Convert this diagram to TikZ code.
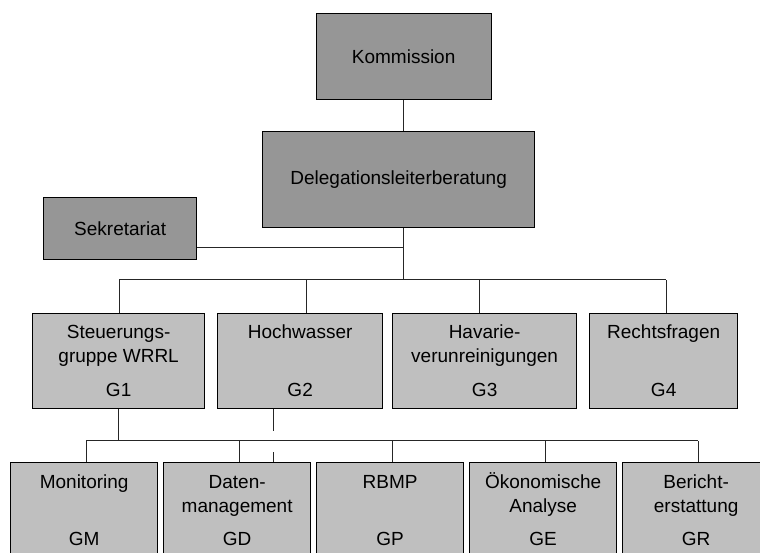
\documentclass[tikz,border=0pt]{standalone}
\usepackage{fontspec}
\setmainfont{Liberation Sans}
\usepackage{tikz}
\usetikzlibrary{positioning}
\definecolor{boxdark}{gray}{0.59}
\definecolor{boxlight}{gray}{0.75}
\tikzset{
  orgbox/.style={draw=black,line width=1.3pt,inner sep=0pt,anchor=north west,
    font=\fontsize{19}{24}\selectfont},
  boxtext/.style={inner sep=0pt,align=center,anchor=base,font=\fontsize{19}{24}\selectfont},
  link/.style={line width=1pt,black!85}
}

\begin{document}
\begin{tikzpicture}[x=1pt,y=-1pt]
    \useasboundingbox (0,0) rectangle (760,553);
    \coordinate (sekj) at (403,248);
    \coordinate (bus) at (403,280);
    \coordinate (busl) at (119,280);
    \coordinate (busr) at (666,280);
    \coordinate (sub) at (119,440.5);
    \coordinate (subl) at (86,440.5);
    \coordinate (subr) at (698,440.5);
    \node[orgbox,fill=boxdark,minimum width=175pt,minimum height=86pt] (komm) at (315.5,13) {Kommission};
    \node[orgbox,fill=boxdark,minimum width=272pt,minimum height=96pt] (deleg) at (262,131) {Delegationsleiterberatung};
    \node[orgbox,fill=boxdark,minimum width=153pt,minimum height=62pt] (sek) at (43,197) {Sekretariat};
    \node[orgbox,fill=boxlight,minimum width=172pt,minimum height=95pt] (g1) at (32,313) {};
    \node[orgbox,fill=boxlight,minimum width=165pt,minimum height=95pt] (g2) at (217,313) {};
    \node[orgbox,fill=boxlight,minimum width=184pt,minimum height=95pt] (g3) at (392,313) {};
    \node[orgbox,fill=boxlight,minimum width=148pt,minimum height=95pt] (g4) at (589,313) {};
    \node[orgbox,fill=boxlight,minimum width=147pt,minimum height=95pt] (gm) at (10,461.5) {};
    \node[orgbox,fill=boxlight,minimum width=147pt,minimum height=95pt] (gd) at (163,461.5) {};
    \node[orgbox,fill=boxlight,minimum width=147pt,minimum height=95pt] (gp) at (316,461.5) {};
    \node[orgbox,fill=boxlight,minimum width=147pt,minimum height=95pt] (ge) at (469,461.5) {};
    \node[orgbox,fill=boxlight,minimum width=147pt,minimum height=95pt] (gr) at (622,461.5) {};
    \node[boxtext] (g1t) at ([yshift=-49pt]g1.north) {Steuerungs-\\gruppe WRRL};
    \node[boxtext] (g2t) at ([yshift=-25pt]g2.north) {Hochwasser};
    \node[boxtext] (g3t) at ([yshift=-49pt]g3.north) {Havarie-\\verunreinigungen};
    \node[boxtext] (g4t) at ([yshift=-25pt]g4.north) {Rechtsfragen};
    \node[boxtext] (gmt) at ([yshift=-26.5pt]gm.north) {Monitoring};
    \node[boxtext] (gdt) at ([yshift=-50.5pt]gd.north) {Daten-\\management};
    \node[boxtext] (gpt) at ([yshift=-26.5pt]gp.north) {RBMP};
    \node[boxtext] (get) at ([yshift=-50.5pt]ge.north) {Ökonomische\\Analyse};
    \node[boxtext] (grt) at ([yshift=-50.5pt]gr.north) {Bericht-\\erstattung};
    \foreach \n/\c in {g1/G1,g2/G2,g3/G3,g4/G4,gm/GM,gd/GD,gp/GP,ge/GE,gr/GR}
      \node[boxtext] (\n c) at ([yshift=-83.5pt]\n.north) {\c};
    \draw[link] (komm.south) -- (komm.south |- deleg.north);
    \draw[link] (komm.south |- deleg.south) -- (komm.south |- bus);
    \draw[link] (sek.east |- sekj) -- (sekj);
    \draw[link] (busl) -- (busr);
    \foreach \n/\d in {g1/1,g2/6,g3/-5,g4/3}
      \draw[link] ([xshift=\d pt]\n.north) -- ([xshift=\d pt]\n.north |- bus);
    \draw[link] (g1.south) -- (g1.south |- sub);
    \draw[link] (subl) -- (subr);
    \foreach \n in {gm,gd,gp,ge,gr}
      \draw[link] ([xshift=2.5pt]\n.north) -- ([xshift=2.5pt]\n.north |- sub);
    \draw[link,dash pattern=on 22pt off 21pt on 12pt] ([xshift=-27pt]g2.south) -- ([xshift=-27pt]g2.south |- gd.north);
\end{tikzpicture}
\end{document}
